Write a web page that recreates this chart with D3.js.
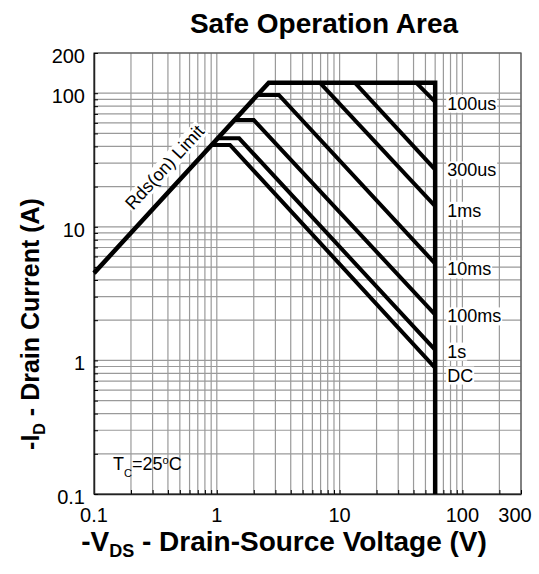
<!DOCTYPE html>
<html>
<head>
<meta charset="utf-8">
<script src="https://cdn.jsdelivr.net/npm/d3@7"></script>
<style>
  body { margin: 0; background: #fff; }
  text { font-family: Arial, "Liberation Sans", sans-serif; fill: #000; }
</style>
</head>
<body>
<svg id="chart"></svg>
<script>
// axis labels
const xTickLabels = [0.1, 1, 10, 100, 300];
const yTickLabels = [0.1, 1, 10, 100, 200];

// Rds(on) limit + current limit + voltage limit (V, A)
const envelope = [[0.1, 4.5], [2.65, 120], [60, 120], [60, 0.1]];

// pulse-width curves (V, A)
const curveNames = ['100us', '300us', '1ms', '10ms', '100ms', '1s', 'DC'];
const curves = [
    [[42, 120], [60, 86]],
    [[13.3, 120], [60, 26.8]],
    [[6.9, 120], [60, 14.3]],
    [[2.1, 97], [3.2, 97], [60, 5.3]],
    [[1.37, 63], [2.0, 63], [60, 2.2]],
    [[1.0, 46], [1.52, 46], [60, 1.2]],
    [[0.89, 41], [1.28, 41], [60, 0.88]]
];
const labelShift = [3, 2, 6, 7, 3, 3, 9];

const config = {
    width: 539,
    height: 574,
    margin: { top: 53, right: 18, bottom: 80, left: 94 }
};

const svg = d3.select('#chart')
    .attr('width', config.width)
    .attr('height', config.height);

const x = d3.scaleLog()
    .domain([0.1, 300])
    .range([config.margin.left, config.width - config.margin.right]);

const y = d3.scaleLog()
    .domain([0.1, 200])
    .range([config.height - config.margin.bottom, config.margin.top]);

const x0 = x.range()[0], x1 = x.range()[1];
const y0 = y.range()[0], y1 = y.range()[1];

// grid
const grid = svg.append('g').attr('class', 'grid');
grid.selectAll('.vgrid')
    .data(x.ticks())
    .join('line')
    .attr('x1', d => x(d)).attr('x2', d => x(d))
    .attr('y1', y1).attr('y2', y0)
    .attr('stroke', '#9a9a9a')
    .attr('stroke-width', 1.2);
grid.selectAll('.hgrid')
    .data(y.ticks())
    .join('line')
    .attr('x1', x0).attr('x2', x1)
    .attr('y1', d => y(d)).attr('y2', d => y(d))
    .attr('stroke', '#9a9a9a')
    .attr('stroke-width', 1.2);

// frame
svg.append('rect')
    .attr('x', x0).attr('y', y1)
    .attr('width', x1 - x0).attr('height', y0 - y1)
    .attr('fill', 'none')
    .attr('stroke', '#555')
    .attr('stroke-width', 1.2);

// axes with inward minor ticks
const xAxis = d3.axisBottom(x)
    .tickValues(x.ticks())
    .tickSize(-4)
    .tickSizeOuter(0)
    .tickFormat('');
const yAxis = d3.axisLeft(y)
    .tickValues(y.ticks())
    .tickSize(-4)
    .tickSizeOuter(0)
    .tickFormat('');

svg.append('g')
    .attr('transform', `translate(0,${y0})`)
    .call(xAxis)
    .call(g => g.select('.domain').attr('stroke', '#222').attr('stroke-width', 1.5));
svg.append('g')
    .attr('transform', `translate(${x0},0)`)
    .call(yAxis)
    .call(g => g.select('.domain').attr('stroke', '#222').attr('stroke-width', 1.5));

// tick labels
svg.selectAll('.xlabel')
    .data(xTickLabels)
    .join('text')
    .attr('x', d => x(d))
    .attr('dx', d => d === 300 ? -6 : 0)
    .attr('y', y0 + 28)
    .attr('text-anchor', 'middle')
    .attr('font-size', 20)
    .text(d => d);

svg.selectAll('.ylabel')
    .data(yTickLabels)
    .join('text')
    .attr('x', x0 - 9)
    .attr('y', d => y(d) + 10)
    .attr('text-anchor', 'end')
    .attr('font-size', 20)
    .text(d => d);

// curves
const line = d3.line()
    .x(d => x(d[0]))
    .y(d => y(d[1]));

svg.selectAll('.curve')
    .data(curves)
    .join('path')
    .attr('class', 'curve')
    .attr('d', line)
    .attr('fill', 'none')
    .attr('stroke', '#000')
    .attr('stroke-width', 4);

svg.append('path')
    .datum(envelope)
    .attr('d', line)
    .attr('fill', 'none')
    .attr('stroke', '#000')
    .attr('stroke-width', 4.5);

// curve labels with white backing
const labels = svg.append('g');
curves.forEach((c, i) => {
    const end = c[c.length - 1];
    const t = labels.append('text')
        .attr('x', x(end[0]) + 12)
        .attr('y', y(end[1]) + labelShift[i])
        .attr('dominant-baseline', 'middle')
        .attr('font-size', 18)
        .text(curveNames[i]);
    const b = t.node().getBBox();
    labels.insert('rect', 'text')
        .attr('x', b.x - 1).attr('y', b.y + 1)
        .attr('width', b.width + 2).attr('height', b.height - 2)
        .attr('fill', '#fff');
});

// Rds(on) label along the limit line
const ang = Math.atan2(y(10) - y(1), x(1) - x(0.1)) * 180 / Math.PI;
const rdsG = svg.append('g')
    .attr('transform', `translate(${x(0.41)},${y(26)}) rotate(${ang})`);
const rdsT = rdsG.append('text')
    .attr('text-anchor', 'middle')
    .attr('font-size', 18)
    .text('Rds(on) Limit');
const rb = rdsT.node().getBBox();
rdsG.insert('rect', 'text')
    .attr('x', rb.x - 1).attr('y', rb.y + 1)
    .attr('width', rb.width + 2).attr('height', rb.height - 2)
    .attr('fill', '#fff');

// Tc note
const tc = svg.append('text')
    .attr('x', x(0.143))
    .attr('y', y(0.15))
    .attr('font-size', 18);
tc.append('tspan').text('T');
tc.append('tspan').attr('font-size', 11).attr('dy', 7).text('C');
tc.append('tspan').attr('dy', -7).text('=25');
tc.append('tspan').attr('font-size', 11).attr('dy', -6).text('o');
tc.append('tspan').attr('dy', 6).text('C');

// title
svg.append('text')
    .attr('x', 324)
    .attr('y', 33)
    .attr('text-anchor', 'middle')
    .attr('font-size', 28)
    .attr('font-weight', 'bold')
    .text('Safe Operation Area');

// x title
const xt = svg.append('text')
    .attr('x', 284)
    .attr('y', 551)
    .attr('text-anchor', 'middle')
    .attr('font-size', 28)
    .attr('font-weight', 'bold');
xt.append('tspan').text('-V');
xt.append('tspan').attr('font-size', 18).attr('dy', 6).text('DS');
xt.append('tspan').attr('dy', -6).text(' - Drain-Source Voltage (V)');

// y title
const yt = svg.append('text')
    .attr('transform', `translate(39,324) rotate(-90)`)
    .attr('text-anchor', 'middle')
    .attr('font-size', 25)
    .attr('font-weight', 'bold');
yt.append('tspan').text('-I');
yt.append('tspan').attr('font-size', 16).attr('dy', 6).text('D');
yt.append('tspan').attr('dy', -6).text(' - Drain Current (A)');
</script>
</body>
</html>
